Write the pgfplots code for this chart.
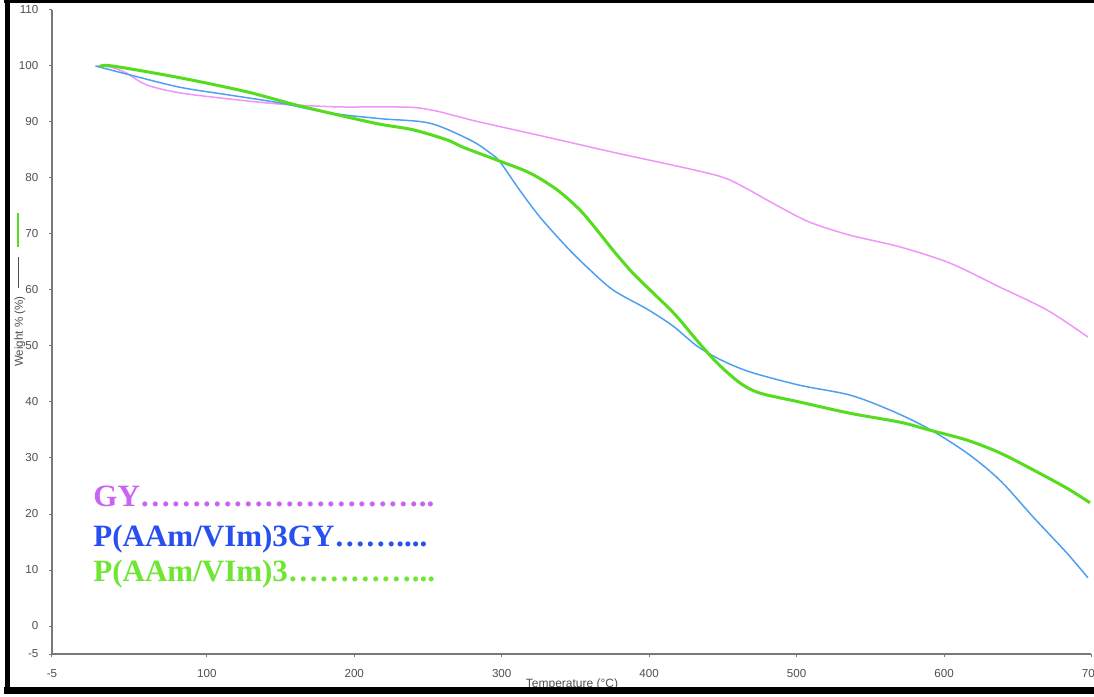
\documentclass[border=0pt]{standalone}
\usepackage{fontspec}
\setmainfont{Liberation Sans}
\newfontfamily\timesb{Liberation Serif}[BoldFont={Liberation Serif Bold}]
\usepackage{pgfplots}
\pgfplotsset{compat=1.18}
\definecolor{gyline}{RGB}{240,150,250}
\definecolor{blueline}{RGB}{80,160,240}
\definecolor{greenline}{RGB}{85,220,30}
\definecolor{gytext}{RGB}{200,100,240}
\definecolor{bluetext}{RGB}{40,80,240}
\definecolor{greentext}{RGB}{110,230,50}
\definecolor{axgray}{RGB}{120,120,120}
\definecolor{lblgray}{RGB}{80,80,80}
\newcommand{\el}{…}
\begin{document}
\begin{tikzpicture}
\clip (0,0) rectangle (547pt,348.5pt);
\fill[white] (0,0) rectangle (547pt,348.5pt);
\begin{axis}[
  at={(26pt,21.5pt)}, anchor=south west,
  scale only axis, width=519.75pt, height=322pt,
  xmin=-5, xmax=700, ymin=-5, ymax=110,
  axis x line*=bottom, axis y line*=left,
  axis line style={axgray, line width=0.6pt, -},
  xtick={-5,100,200,300,400,500,600,700},
  ytick={-5,0,10,20,30,40,50,60,70,80,90,100,110},
  tick style={axgray, line width=0.5pt},
  tick align=outside, major tick length=1.6pt,
  ticklabel style={font=\fontsize{5.8}{6}\selectfont, text=lblgray},
  /pgf/number format/assume math mode=true,
  xticklabel style={yshift=-2.7pt},
  yticklabel style={xshift=-1.7pt},
  clip=false,
]
% GY
\addplot[gyline, line width=0.75pt, smooth] coordinates {
(24.8,100) (35,99.8) (45,98.8) (59.4,96.6) (81.8,95.2) (115.7,94.1) (149.6,93.2) (188,92.7) (217,92.7) (240,92.6) (255,92) (270,91) (285,90) (330.7,87.3) (375.5,84.6) (421,82) (448,80.3) (461.6,78.75) (488.7,74.8) (509,72.1) (536,69.8) (570,67.7) (604,64.8) (638,60.5) (670,56.4) (697.6,51.6)};
% P(AAm/VIm)3GY
\addplot[blueline, line width=0.75pt, smooth] coordinates {
(24.5,100) (48,98.4) (81.8,96.2) (115.7,94.8) (149.6,93.4) (183.5,91.6) (217.5,90.6) (251,89.8) (278.5,86.8) (292,84.5) (298.8,82.9) (312,77.9) (326,73) (344,67.7) (357.8,64.1) (375.5,60) (398.5,56.6) (416,53.6) (432.4,50) (448,47.6) (468,45.4) (502,43) (536,41.25) (563,38.6) (588.4,35.4) (615.5,30.9) (638,26) (660.3,19.5) (683.4,13) (697.6,8.6)};
% P(AAm/VIm)3
\addplot[greenline, line width=1.5pt, smooth] coordinates {
(27.5,99.9) (36,100) (81.8,97.9) (127,95.4) (161,93) (195,90.9) (217.5,89.6) (240,88.6) (263,86.8) (273.7,85.5) (296.8,83.2) (319,80.9) (337.5,77.9) (353,74.3) (364.6,70.7) (375.5,67.1) (389,63) (402.6,59.5) (414,56.6) (421,54.6) (432.4,51) (446,47) (461.6,43.4) (475,41.6) (502,40) (536,38) (570,36.4) (590,35) (615.5,33.2) (638,30.9) (660.3,27.9) (683.4,24.6) (699,22)};
\end{axis}
% y axis label
\node[rotate=90, font=\fontsize{5.8}{7}\selectfont, text=lblgray] at (10pt,182.75pt) {Weight \% (\%)};
\draw[lblgray, line width=0.4pt] (9pt,204.5pt) -- (9pt,220pt);
\draw[greenline, line width=1pt] (8.75pt,225pt) -- (8.75pt,242pt);
% x axis label
\node[anchor=north, font=\fontsize{6}{7}\selectfont, text=lblgray, inner sep=0pt] at (286pt,9.3pt) {Temperature (°C)};
% legend text
\node[anchor=base west, inner sep=0pt, text=gytext, font=\timesb\bfseries\fontsize{15.5}{17}\selectfont] at (46.5pt,95pt) {GY\el\el\el\el\el\el\el\el\el..};
\node[anchor=base west, inner sep=0pt, text=bluetext, font=\timesb\bfseries\fontsize{15.5}{17}\selectfont] at (46.5pt,75pt) {P(AAm/VIm)3GY\el\el....};
\node[anchor=base west, inner sep=0pt, text=greentext, font=\timesb\bfseries\fontsize{15.5}{17}\selectfont] at (46.5pt,57.5pt) {P(AAm/VIm)3\el\el\el\el...};
% frame
\draw[black, line width=2.5pt] (3.5pt,3.25pt) -- (3.5pt,350pt);
\draw[black, line width=2pt] (2pt,348pt) -- (550pt,348pt);
\draw[black, line width=3.5pt] (2pt,3.25pt) -- (550pt,3.25pt);
\end{tikzpicture}
\end{document}
